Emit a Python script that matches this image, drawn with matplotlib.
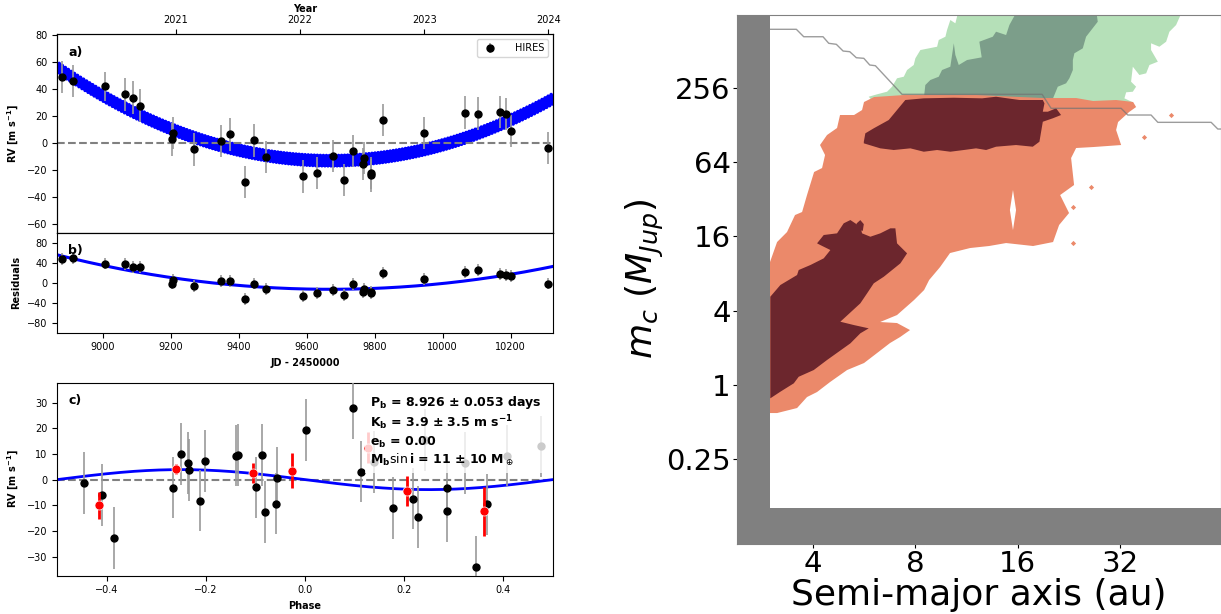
import numpy as np
import matplotlib.pyplot as plt
from matplotlib.offsetbox import AnchoredText

# ---- HIRES radial velocities (JD - 2450000) ----
jd = [8880.0, 8913.9, 9007.3, 9066.0, 9089.0, 9111.0, 9205.8, 9203.7, 9268.8, 9349.6,
      9374.8, 9417.9, 9446.2, 9479.8, 9590.0, 9630.0, 9678.2, 9708.7, 9734.9, 9767.5,
      9766.4, 9789.5, 9790.6, 9824.2, 9943.9, 10064.6, 10102.4, 10168.5, 10187.4, 10200.0,
      10308.2]
rv = [48.7, 45.8, 41.8, 35.9, 33.5, 27.6, 7.6, 2.7, -4.7, 1.5,
      6.4, -28.6, 2.0, -10.3, -24.6, -22.2, -9.4, -27.1, -5.9, -11.1,
      -15.3, -22.2, -23.9, 17.2, 7.4, 22.4, 21.7, 22.9, 21.4, 9.1,
      -3.7]
resid = [47.5, 49.5, 38.6, 38.6, 31.2, 31.9, 5.4, -1.4, -6.1, 3.4,
         4.1, -31.9, -1.4, -11.5, -27.1, -19.7, -13.6, -23.7, -2.7, -12.9,
         -19.0, -19.0, -21.0, 19.0, 7.5, 22.4, 25.0, 18.3, 16.3, 12.9,
         -1.4]
rv_err = [12.0, 12.0, 10.5, 12.0, 12.0, 12.0, 12.0, 12.0, 12.0, 12.0,
          12.0, 12.0, 12.0, 12.0, 12.0, 12.0, 12.0, 12.0, 12.0, 12.0,
          12.0, 12.0, 12.0, 12.0, 12.0, 12.0, 12.0, 12.0, 12.0, 12.0,
          12.0]

# ---- phase folded on planet b ----
phase = [-0.445, -0.41, -0.386, -0.267, -0.251, -0.236, -0.234, -0.211, -0.201, -0.14,
         -0.135, -0.099, -0.086, -0.081, -0.058, -0.056, 0.001, 0.096, 0.112, 0.139,
         0.177, 0.218, 0.228, 0.286, 0.286, 0.323, 0.345, 0.367, 0.242, 0.408,
         0.475]
rv_phase = [-1.3, -5.9, -22.8, -3.1, 10.0, 6.4, 3.7, -8.2, 7.2, 9.4,
            9.7, -3.0, 9.7, -12.7, -9.4, 0.8, 19.4, 27.8, 3.1, 6.8,
            -11.0, -7.4, -14.6, -3.1, -12.4, 6.4, -33.9, -9.7, 15.4, 9.4,
            13.0]
phase_bin = [-0.415, -0.260, -0.104, -0.027, 0.128, 0.205, 0.362]
rv_bin = [-10.0, 4.2, 2.6, 3.5, 12.5, -4.3, -12.3]
rv_bin_err = [5.2, 2.0, 4.0, 6.8, 6.2, 5.9, 9.5]

# ---- orbit and trend ----
per_b = 8.926
k_b = 3.9
tc_b = 9000.0
trend_t0 = 9670.0
trend_min = -13.0
trend_curv = 1.07e-4

year_labels = ['2021', '2022', '2023', '2024']
year_jd = [9215.5, 9580.5, 9945.5, 10310.5]

# ---- companion posterior (log2 a [au], log2 m [M_Jup]) ----
orange_l2a = [1.585, 1.654, 1.751, 1.829, 1.898, 1.946, 2.015, 2.093, 2.122, 2.073,
              2.141, 2.239, 2.268, 2.405, 2.483, 2.502, 2.6, 2.893, 3.595, 4.249,
              4.571, 4.737, 4.961, 5.127, 5.156, 5.088, 4.98, 4.961, 5.01, 4.737,
              4.571, 4.522, 4.551, 4.415, 4.502, 4.405, 4.346, 4.151, 3.888, 3.722,
              3.537, 3.341, 3.244, 3.137, 3.088, 2.99, 2.824, 2.659, 2.824, 2.951,
              2.854, 2.756, 2.629, 2.502, 2.337, 2.171, 2.044, 1.946, 1.849, 1.654,
              1.585]
orange_l2m = [3.311, 3.849, 4.118, 4.576, 4.657, 5.114, 5.734, 5.841, 6.191, 6.46,
              6.729, 6.918, 7.268, 7.268, 7.402, 7.618, 7.752, 7.806, 7.806, 7.725,
              7.725, 7.645, 7.672, 7.618, 7.483, 7.349, 7.079, 6.864, 6.46, 6.406,
              6.38, 6.11, 5.384, 5.114, 4.63, 4.307, 3.849, 3.742, 3.822, 3.742,
              3.688, 3.553, 3.176, 2.826, 2.557, 2.288, 1.884, 1.696, 1.669, 1.48,
              1.292, 1.131, 0.861, 0.592, 0.404, 0.081, -0.188, -0.323, -0.619, -0.754,
              -0.754]

dark_low_l2a = [2.044, 2.109, 2.239, 2.304, 2.369, 2.466, 2.483, 2.564, 2.661, 2.759,
                2.808, 2.824, 2.922, 2.857, 2.695, 2.597, 2.532, 2.466, 2.271, 2.402,
                2.548, 2.466, 2.369, 2.141, 2.012, 1.865, 1.817, 1.686, 1.588, 1.588,
                1.686, 1.849, 1.865, 1.979, 2.109, 2.174, 2.076]
dark_low_l2m = [3.814, 4.038, 4.083, 4.353, 4.441, 4.261, 4.083, 3.992, 4.083, 4.218,
                4.218, 3.814, 3.545, 3.276, 2.915, 2.738, 2.468, 2.199, 1.704, 1.615,
                1.526, 1.392, 1.122, 0.673, 0.404, 0.223, 0.046, -0.18, -0.358, 2.377,
                2.692, 2.961, 3.096, 3.23, 3.41, 3.634, 3.768]
dark_dot_l2a = [2.43, 2.466, 2.5, 2.49, 2.43]
dark_dot_l2m = [4.35, 4.44, 4.33, 4.15, 4.18]

dark_up_l2a = [2.5, 2.515, 2.597, 2.743, 2.824, 2.905, 3.085, 3.378, 3.654, 3.79,
               4.018, 4.246, 4.262, 4.246, 4.295, 4.376, 4.424, 4.343, 4.246, 4.213,
               4.148, 3.985, 3.79, 3.693, 3.595, 3.475, 3.344, 3.215, 3.085, 2.954,
               2.792, 2.661, 2.5]
dark_up_l2m = [6.549, 6.775, 6.91, 7.133, 7.402, 7.672, 7.717, 7.733, 7.717, 7.76,
               7.672, 7.672, 7.583, 7.357, 7.357, 7.448, 7.268, 7.179, 7.087, 6.549,
               6.415, 6.46, 6.415, 6.326, 6.371, 6.326, 6.28, 6.326, 6.28, 6.371,
               6.326, 6.371, 6.506]

green_l2a = [2.548, 2.629, 2.727, 2.776, 2.824, 2.89, 2.922, 2.987, 3.003, 3.052,
             3.215, 3.231, 3.296, 3.312, 3.344, 3.393, 3.426, 5.612, 5.546, 5.481,
             5.449, 5.383, 5.302, 5.302, 5.368, 5.286, 5.254, 5.188, 5.124, 5.107,
             5.156, 5.124, 5.059, 5.042, 5.124, 2.6]
green_l2m = [7.76, 7.825, 7.895, 8.03, 8.256, 8.299, 8.479, 8.614, 8.794, 9.017,
             9.106, 9.287, 9.375, 9.556, 9.825, 9.736, 10.1, 10.1, 9.69, 9.51,
             9.241, 9.106, 9.198, 9.017, 8.703, 8.614, 8.39, 8.345, 8.568, 8.164,
             8.03, 7.895, 7.879, 7.717, 7.61, 7.6]

dgreen_l2a = [3.085, 3.1, 3.149, 3.231, 3.263, 3.344, 3.361, 3.378, 3.393, 3.426,
              3.507, 3.65, 3.627, 3.758, 3.79, 3.888, 3.92, 4.002, 4.766, 4.782,
              4.668, 4.636, 4.554, 4.539, 4.539, 4.505, 4.473, 4.392, 4.343]
dgreen_l2m = [7.7, 8.075, 8.21, 8.299, 8.479, 8.568, 8.883, 9.198, 8.883, 8.614,
              8.748, 8.82, 9.241, 9.375, 9.51, 9.421, 9.69, 10.1, 10.1, 9.779,
              9.375, 9.063, 8.929, 8.748, 8.479, 8.256, 8.121, 8.03, 7.7]

hole_l2a = [3.955, 3.985, 3.955, 3.925]
hole_l2m = [5.25, 4.71, 4.17, 4.71]

speck_l2a = [5.498, 5.233, 4.717, 4.539, 4.539]
speck_l2m = [7.264, 6.684, 5.338, 4.8, 3.814]

limit_l2a = [1.588, 1.842, 1.914, 2.102, 2.158, 2.232, 2.298, 2.363, 2.427, 2.5,
             2.558, 2.613, 2.873, 4.239, 4.327, 5.01, 5.075, 5.302, 5.368, 5.888,
             5.953, 6.0]
limit_l2m = [9.575, 9.575, 9.375, 9.375, 9.198, 9.171, 8.99, 8.972, 8.81, 8.794,
             8.614, 8.595, 7.825, 7.825, 7.448, 7.448, 7.268, 7.268, 7.071, 7.071,
             6.891, 6.891]

a_grid_min = 3.0
m_grid_min = 0.1

# ---------------------------------------------------------------
plt.rcParams['font.size'] = 7
fig = plt.figure(figsize=(12.21, 6.14), dpi=100)

L, W = 0.04677, 0.40606
ax_a = fig.add_axes([L, 0.62068, W, 0.32345])
ax_b = fig.add_axes([L, 0.45814, W, 0.16254])
ax_c = fig.add_axes([L, 0.0627, W, 0.31401])
ax_r = fig.add_axes([0.6036, 0.11482, 0.3964, 0.86075])

jd_lim = (8866.5, 10324.0)
t_mod = np.linspace(jd_lim[0], jd_lim[1], 8000)
trend = trend_min + trend_curv * (t_mod - trend_t0) ** 2
planet = -k_b * np.sin(2 * np.pi * (t_mod - tc_b) / per_b)


def letter(ax, s):
    at = AnchoredText(s, loc='upper left', frameon=False,
                      prop=dict(size=9, weight='bold'))
    ax.add_artist(at)


ebkw = dict(fmt='o', color='k', ecolor='0.6', ms=5, elinewidth=1.2, capsize=0)

# a) full model
ax_a.plot(t_mod, trend + planet, color='blue', lw=2.4, zorder=1)
ax_a.axhline(0, color='gray', ls='--', lw=1.5, zorder=2)
ax_a.errorbar(jd, rv, yerr=rv_err, label='HIRES', zorder=3, **ebkw)
ax_a.set_xlim(jd_lim)
ax_a.set_ylim(-66.3, 80.3)
ax_a.set_yticks(np.arange(-60, 81, 20))
ax_a.tick_params(labelbottom=False)
ax_a.set_ylabel(r'RV [m s$^{\mathbf{-1}}$]', fontweight='bold')
ax_a.legend(loc='upper right', fontsize=7, handletextpad=1.5)
letter(ax_a, 'a)')

top = ax_a.twiny()
top.set_xlim(jd_lim)
top.set_xticks(year_jd)
top.set_xticklabels(year_labels)
top.set_xlabel('Year', fontweight='bold', labelpad=2)

# b) residuals with trend
ax_b.plot(t_mod, trend, color='blue', lw=2.2, zorder=1)
ax_b.errorbar(jd, resid, yerr=rv_err, zorder=3, **ebkw)
ax_b.set_xlim(jd_lim)
ax_b.set_ylim(-100, 100)
ax_b.set_yticks([-80, -40, 0, 40, 80])
ax_b.set_xticks(np.arange(9000, 10201, 200))
ax_b.set_ylabel('Residuals', fontweight='bold')
ax_b.set_xlabel('JD - 2450000', fontweight='bold')
letter(ax_b, 'b)')

# c) phase folded
ph = np.linspace(-0.5, 0.5, 400)
ax_c.axhline(0, color='gray', ls='--', lw=1.5, zorder=1)
ax_c.plot(ph, -k_b * np.sin(2 * np.pi * ph), color='blue', lw=2, zorder=1.5)
ax_c.errorbar(phase, rv_phase, yerr=[12.0] * len(phase), zorder=3, **ebkw)
ax_c.errorbar(phase_bin, rv_bin, yerr=rv_bin_err, fmt='o', color='red', ecolor='red',
              ms=6.5, mec='w', mew=0.5, elinewidth=2, capsize=0, zorder=4)
ax_c.set_xlim(-0.5, 0.5)
ax_c.set_ylim(-37.4, 37.8)
ax_c.set_xticks([-0.4, -0.2, 0.0, 0.2, 0.4])
ax_c.set_yticks(np.arange(-30, 31, 10))
ax_c.set_xlabel('Phase', fontweight='bold')
ax_c.set_ylabel(r'RV [m s$^{\mathbf{-1}}$]', fontweight='bold')
letter(ax_c, 'c)')
info = '\n'.join([r'P$_\mathbf{b}$ = 8.926 ± 0.053 days',
                  r'K$_\mathbf{b}$ = 3.9 ± 3.5 m s$^\mathbf{-1}$',
                  r'e$_\mathbf{b}$ = 0.00',
                  r'M$_\mathbf{b}\sin\mathbf{i}$ = 11 ± 10 M$_\oplus$'])
box = AnchoredText(info, loc='upper right', frameon=True,
                   prop=dict(size=9, weight='bold'))
box.patch.set(facecolor='white', edgecolor='none', alpha=0.8)
ax_c.add_artist(box)

# right: companion constraints
ax_r.set_xscale('log', base=2)
ax_r.set_yscale('log', base=2)
xl, yl = (2.4, 63.3), (0.052, 996)
for la, lm, col in [(green_l2a, green_l2m, '#b5e0b8'),
                    (dgreen_l2a, dgreen_l2m, '#7c9e8a'),
                    (orange_l2a, orange_l2m, '#eb896a'),
                    (hole_l2a, hole_l2m, 'white'),
                    (dark_low_l2a, dark_low_l2m, '#6c262d'),
                    (dark_dot_l2a, dark_dot_l2m, '#6c262d'),
                    (dark_up_l2a, dark_up_l2m, '#6c262d')]:
    ax_r.fill(2 ** np.array(la), 2 ** np.array(lm), color=col, lw=0)
ax_r.scatter(2 ** np.array(speck_l2a), 2 ** np.array(speck_l2m), marker='D', s=7,
             color='#eb896a', lw=0)
ax_r.plot(2 ** np.array(limit_l2a), 2 ** np.array(limit_l2m), color='0.45', lw=1,
          alpha=0.7)
ax_r.axvspan(xl[0], a_grid_min, color='#808080', lw=0, zorder=3)
ax_r.axhspan(yl[0], m_grid_min, color='#808080', lw=0, zorder=3)
ax_r.set_xlim(xl)
ax_r.set_ylim(yl)
ax_r.set_xticks([4, 8, 16, 32])
ax_r.set_xticklabels(['4', '8', '16', '32'])
ax_r.set_yticks([0.25, 1, 4, 16, 64, 256])
ax_r.set_yticklabels(['0.25', '1', '4', '16', '64', '256'])
ax_r.minorticks_off()
ax_r.tick_params(labelsize=21, pad=1.5, length=3)
for sp in ax_r.spines.values():
    sp.set_color('0.5')
ax_r.set_xlabel('Semi-major axis (au)', fontsize=26, labelpad=0)
ax_r.set_ylabel(r'$m_c$ ($M_{Jup}$)', fontsize=26, labelpad=0)

fig.savefig('out.png', dpi=100)
